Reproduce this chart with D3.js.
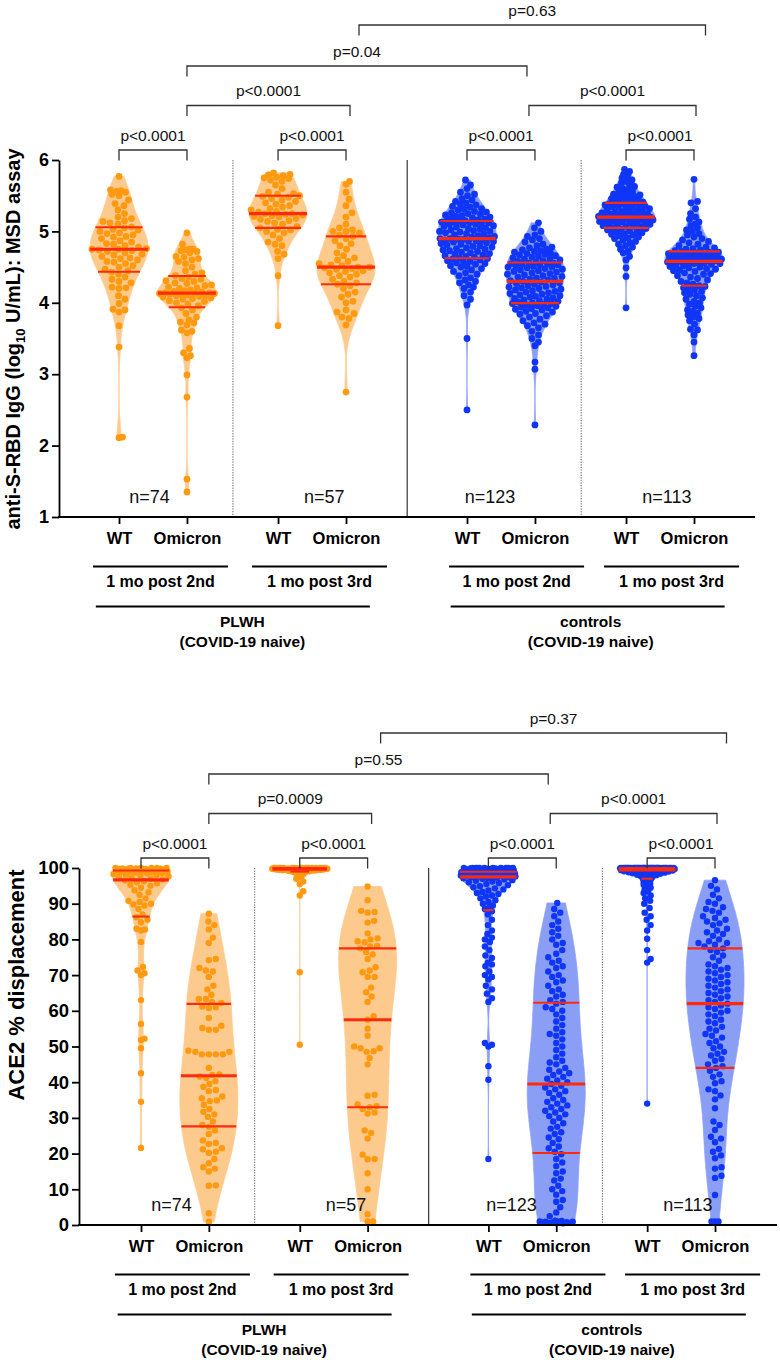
<!DOCTYPE html>
<html><head><meta charset="utf-8">
<script src="https://cdn.jsdelivr.net/npm/d3@7"></script>
<style>
body{margin:0;background:#fff;}
svg{display:block;font-family:"Liberation Sans",Arial,Helvetica,sans-serif;}
</style></head><body>
<svg id="chart" width="780" height="1360"></svg>
<script>
// ---------------- DATA ----------------
const cohorts = ["PLWH", "controls"];
const cohortSub = "(COVID-19 naive)";
const timepoints = ["1 mo post 2nd", "1 mo post 3rd"];
const variants = ["WT", "Omicron"];
const nLabels = ["n=74", "n=57", "n=123", "n=113"];
const iggTicks = [1, 2, 3, 4, 5, 6];
const aceTicks = [0, 10, 20, 30, 40, 50, 60, 70, 80, 90, 100];
const iggPvalues = ["p<0.0001","p<0.0001","p<0.0001","p<0.0001","p<0.0001","p<0.0001","p=0.04","p=0.63"];
const acePvalues = ["p<0.0001","p<0.0001","p<0.0001","p<0.0001","p=0.0009","p<0.0001","p=0.55","p=0.37"];

// anti-S-RBD IgG (log10 U/mL)
const iggPlwh2ndWT = [2.11,2.12,3.38,3.68,3.87,3.9,3.91,3.99,4.05,4.1,4.2,4.21,4.22,4.28,4.3,4.33,4.36,4.4,4.43,
  4.45,4.47,4.5,4.52,4.55,4.57,4.58,4.6,4.62,4.63,4.65,4.67,4.68,4.7,4.72,4.73,4.74,4.75,
  4.75,4.76,4.78,4.8,4.82,4.83,4.85,4.87,4.9,4.92,4.93,4.95,4.97,4.98,5.0,5.02,5.03,5.05,
  5.06,5.1,5.12,5.14,5.15,5.18,5.2,5.25,5.3,5.36,5.39,5.44,5.5,5.52,5.55,5.56,5.57,5.58,5.77];
const iggPlwh2ndOm = [1.35,1.53,2.68,2.99,3.23,3.26,3.3,3.36,3.58,3.6,3.62,3.69,3.72,3.73,3.76,3.8,3.85,3.9,3.93,
  3.96,3.98,4.0,4.02,4.03,4.05,4.06,4.07,4.08,4.09,4.1,4.1,4.11,4.12,4.12,4.13,4.13,4.13,
  4.14,4.14,4.15,4.16,4.17,4.18,4.2,4.21,4.22,4.24,4.25,4.27,4.28,4.3,4.31,4.33,4.34,4.36,
  4.38,4.4,4.42,4.45,4.5,4.55,4.58,4.6,4.62,4.64,4.65,4.7,4.72,4.73,4.74,4.75,4.75,4.82,4.98];
const iggPlwh3rdWT = [3.68,4.38,4.62,4.68,4.72,4.8,4.82,4.85,4.9,4.95,4.98,5.0,5.02,5.03,
  5.05,5.07,5.1,5.12,5.14,5.15,5.17,5.18,5.2,5.21,5.22,5.23,5.24,5.25,
  5.25,5.27,5.28,5.3,5.32,5.34,5.36,5.38,5.4,5.42,5.44,5.46,5.48,5.49,
  5.5,5.52,5.53,5.55,5.6,5.65,5.7,5.72,5.74,5.75,5.76,5.78,5.79,5.8,5.82];
const iggPlwh3rdOm = [2.75,3.69,3.78,3.8,3.85,3.87,3.9,4.0,4.02,4.08,4.12,4.15,4.2,4.24,
  4.26,4.28,4.3,4.33,4.36,4.38,4.4,4.42,4.44,4.45,4.47,4.48,4.49,4.5,
  4.5,4.52,4.53,4.55,4.58,4.6,4.63,4.66,4.7,4.75,4.8,4.83,4.87,4.9,
  4.93,4.95,4.98,5.0,5.0,5.02,5.05,5.1,5.2,5.26,5.36,5.45,5.55,5.66,5.7];
const iggCtrl2ndWT = [2.5,3.5,3.97,4.05,4.1,4.15,4.2,4.22,4.25,4.28,4.3,4.32,4.35,4.38,4.4,4.42,4.44,4.46,4.48,4.5,
  4.51,4.52,4.54,4.55,4.56,4.57,4.58,4.59,4.6,4.61,4.62,
  4.63,4.64,4.65,4.66,4.67,4.68,4.69,4.7,4.71,4.72,4.73,4.74,4.75,4.76,4.77,4.78,4.79,4.8,4.81,4.82,
  4.83,4.84,4.85,4.86,4.86,4.87,4.88,4.88,4.89,4.89,
  4.9,4.9,4.91,4.92,4.93,4.94,4.95,4.96,4.97,4.98,4.99,5.0,5.0,5.01,5.02,5.03,5.04,5.05,5.06,5.07,
  5.08,5.09,5.1,5.1,5.11,5.12,5.12,5.13,5.13,5.14,5.14,
  5.15,5.16,5.17,5.18,5.19,5.2,5.21,5.22,5.23,5.24,5.25,5.26,5.27,5.28,5.3,5.31,5.32,5.34,5.35,5.37,
  5.38,5.4,5.42,5.44,5.46,5.5,5.52,5.55,5.6,5.65,5.72];
const iggCtrl2ndOm = [2.29,3.07,3.17,3.4,3.45,3.5,3.55,3.6,3.65,3.68,3.7,3.72,3.75,3.77,3.8,3.82,3.84,3.85,3.87,3.88,
  3.9,3.91,3.92,3.93,3.94,3.95,3.96,3.97,3.98,3.99,3.99,
  4.0,4.01,4.02,4.03,4.04,4.05,4.06,4.07,4.08,4.09,4.1,4.11,4.12,4.13,4.14,4.15,4.16,4.17,4.18,4.19,
  4.2,4.21,4.22,4.23,4.24,4.25,4.26,4.27,4.28,4.29,
  4.3,4.31,4.32,4.33,4.34,4.35,4.36,4.37,4.38,4.39,4.4,4.41,4.42,4.43,4.44,4.45,4.46,4.47,4.48,4.49,
  4.5,4.5,4.51,4.52,4.53,4.53,4.54,4.55,4.55,4.56,4.56,
  4.57,4.58,4.59,4.6,4.61,4.62,4.63,4.64,4.65,4.66,4.67,4.68,4.69,4.7,4.71,4.72,4.73,4.74,4.75,4.77,
  4.78,4.8,4.82,4.85,4.88,4.9,4.93,4.95,5.0,5.05,5.12];
const iggCtrl3rdWT = [3.93,4.37,4.49,4.6,4.65,4.7,4.72,4.75,4.78,4.8,4.82,4.84,4.86,4.88,4.9,4.91,4.92,4.94,4.95,4.96,
  4.97,4.98,4.99,5.0,5.01,5.02,5.03,5.04,
  5.05,5.06,5.07,5.07,5.08,5.09,5.1,5.1,5.11,5.12,5.12,5.13,5.14,5.14,5.15,5.15,5.16,5.16,5.17,5.17,
  5.18,5.18,5.19,5.19,5.19,5.2,5.2,5.2,
  5.2,5.21,5.21,5.22,5.22,5.23,5.24,5.24,5.25,5.26,5.26,5.27,5.28,5.29,5.3,5.3,5.31,5.32,5.33,5.34,
  5.35,5.35,5.36,5.37,5.38,5.38,5.39,5.39,
  5.4,5.41,5.42,5.43,5.44,5.45,5.46,5.47,5.48,5.49,5.5,5.51,5.52,5.53,5.55,5.56,5.58,5.6,5.62,5.63,
  5.65,5.68,5.7,5.72,5.75,5.78,5.8,5.84,5.87];
const iggCtrl3rdOm = [3.26,3.45,3.55,3.62,3.63,3.7,3.75,3.78,3.8,3.83,3.85,3.88,3.9,3.93,3.95,3.98,4.0,4.02,4.05,4.07,
  4.1,4.12,4.14,4.16,4.18,4.2,4.21,4.23,
  4.24,4.26,4.28,4.3,4.32,4.34,4.36,4.38,4.4,4.41,4.42,4.44,4.45,4.46,4.47,4.48,4.49,4.5,4.51,4.52,
  4.53,4.54,4.55,4.55,4.56,4.56,4.57,4.57,
  4.58,4.58,4.59,4.59,4.6,4.6,4.61,4.61,4.62,4.62,4.63,4.63,4.64,4.64,4.65,4.65,4.66,4.66,4.67,4.67,
  4.68,4.68,4.69,4.69,4.7,4.7,4.71,4.71,
  4.72,4.73,4.74,4.75,4.76,4.77,4.78,4.8,4.82,4.84,4.86,4.88,4.9,4.92,4.95,4.97,5.0,5.02,5.05,5.08,
  5.1,5.13,5.17,5.2,5.25,5.32,5.4,5.42,5.73];

// ACE2 % displacement
const acePlwh2ndWT = [21.6,34.5,42.5,49.5,51.8,52.2,56.3,63,70,70.5,71.3,72.3,79.3,82.5,82.8,83,84.8,85.5,
  86.2,87,88.5,89.5,89.8,90,90.5,90.8,91.5,92.5,93.2,93.8,94.5,95,95.3,95.7,96,96.3,
  96.5,96.8,97,97.2,97.5,97.7,97.9,98,98.2,98.3,98.5,98.6,98.7,98.8,98.9,99,99.1,99.2,
  99.3,99.3,99.4,99.4,99.5,99.5,99.6,99.6,99.7,99.7,99.8,99.8,99.9,99.9,100,100,100,100,100,100];
const acePlwh2ndOm = [0.9,3.3,11,11.1,15,15.8,16.2,17.3,18.5,20.2,20.5,21.2,21.5,22.7,23,23.7,25.5,26.5,
  27.5,28,29,30.3,31,31.7,32.5,33.7,34.7,34.9,35.5,36,37.5,37.8,38.7,39.5,40.3,41.2,41.6,
  42,42.2,44,47.8,47.8,47.8,47.8,48.5,48.5,48.8,54.7,54.7,55.2,55.8,58,60.8,61,61.2,
  62.2,62.5,63.3,63.3,64.5,66,67,69.5,71,71.3,72,74.2,74.5,79,80.5,82.8,84,85,87.2];
const acePlwh3rdWT = [50.5,70.8,92.3,93.5,95.5,96.2,97,97.5,98,98.3,98.5,98.7,98.8,98.9,
  99,99.1,99.2,99.3,99.3,99.4,99.4,99.5,99.5,99.5,99.6,99.6,99.6,99.7,
  99.7,99.7,99.8,99.8,99.8,99.8,99.9,99.9,99.9,99.9,100,100,100,100,
  100,100,100,100,100,100,100,100,100,100,100,100,100,100,100];
const acePlwh3rdOm = [1,1,3,10,14.5,18.4,18.5,19.7,24.2,25.8,26.5,31.2,31.5,32.5,
  33,33.3,33.8,36.2,36.5,45,46.8,48.5,48.7,49.5,49.5,50,53,55,
  57.5,58.5,62.5,64,65.2,66.5,69.5,69.5,70.8,71.3,72.2,74.5,75.8,76.5,
  77.5,78,78.2,79.2,79.5,80,80.3,81.7,84.7,85.2,87.5,87.7,88,91,94.8];
const aceCtrl2ndWT = [18.5,40.7,44.5,50,50.5,51,62.5,63.5,64.8,66,67,68.8,69.5,70,71,72.5,73,73.5,74.8,75.5,
  77,78,79.3,80,80.5,81.5,82.5,84,85.5,87,
  87.9,88.5,89,89.5,90,90.5,91,91.5,92,92.3,92.7,93,93.3,93.7,94,94.3,94.6,94.9,95.2,95.5,
  95.8,96,96.2,96.4,96.6,96.8,97,97.1,97.2,97.3,97.4,
  97.5,97.6,97.6,97.7,97.7,97.8,97.8,97.9,97.9,98,98,98.1,98.1,98.2,98.2,98.3,98.3,98.4,98.4,98.5,
  98.5,98.6,98.6,98.7,98.7,98.7,98.8,98.8,98.8,98.9,98.9,
  99,99,99.1,99.1,99.2,99.2,99.3,99.3,99.4,99.4,99.5,99.5,99.6,99.6,99.7,99.7,99.8,99.8,99.9,99.9,
  100,100,100,100,100,100,100,100,100,100,100];
const aceCtrl2ndOm = [0.5,0.5,0.6,0.6,0.7,0.7,0.8,0.8,0.9,0.9,1,1,1.1,1.2,2.5,3.5,5,6.5,7,8.5,
  9.5,10,11,12.5,13,14.5,15,16.5,17.5,18.5,19.8,
  20.5,21.5,22,23,24,24.5,25.5,26,27,27.5,28.5,29,30,30.5,31,31.5,32,32.5,33,33.5,
  34,34.5,35,35.5,36.5,37,37.5,38,38.5,39,
  39.5,40,40.5,41,41.5,42,42.5,43,43.5,44,45,45.5,46,47,48,49,50,51,52,53,
  53.5,54,55,56,57,58,59,60,60.5,61,62,
  62.5,63,64,64.5,65.5,66,67,68,68.5,69.5,70,71,72,72.5,73.5,74,75,76,77,78.5,
  79,80,81,82,83,84,85,86.5,87.5,88.5,90.2];
const aceCtrl3rdWT = [34,73.5,74.5,77,80.2,82.5,84,85.5,86.5,87.5,88.8,90,90.8,91.5,92.3,93,93.5,94,94.5,95,
  95.3,95.6,95.9,96.1,96.3,96.5,96.7,96.9,
  97,97.2,97.4,97.6,97.8,98,98.1,98.2,98.3,98.4,98.5,98.6,98.7,98.8,98.9,99,99,99.1,99.1,99.2,
  99.2,99.3,99.3,99.3,99.4,99.4,99.4,99.5,
  99.5,99.5,99.6,99.6,99.6,99.6,99.7,99.7,99.7,99.7,99.8,99.8,99.8,99.8,99.8,99.9,99.9,99.9,99.9,99.9,
  99.9,100,100,100,100,100,100,100,
  100,100,100,100,100,100,100,100,100,100,100,100,100,100,100,100,100,100,100,100,
  100,100,100,100,100,100,100,100,100];
const aceCtrl3rdOm = [1,1,1,8.4,13.2,13.8,15.8,16.2,18.7,19.5,20.5,21.3,23.2,24.2,24.7,26.6,28,29,32.7,35.2,
  36.3,37.5,38,39.7,40.3,41.5,42.2,43.2,
  44,44.5,45,46,46.5,47.5,48,48.5,49.5,50,51,51.5,52.5,53,53.5,54.5,55,55.5,56.5,57,
  57.5,58.5,59,59.5,60,60.5,61,61.5,
  62,62.5,63,63.5,64,64.5,65,65.5,66,66.5,67,67.5,68,68.5,69,69.5,70,70.5,71,71.5,
  72,72.5,73,74,75,75.5,76.5,77,
  77.5,78,78.5,79,79,79.5,80,81,81.5,82,82.5,83,84,84.5,85,85.5,86,86.5,87.5,88,
  88.5,89,90,90.5,91.5,92.5,94,95,96.6];

// ---------------- LAYOUT ----------------
const SLOTS = [0, 1, 2.34, 3.34, 5.12, 6.12, 7.46, 8.46];
const SEPS = [1.676, 4.24, 6.80];
const NLAB_SLOTS = [0.45, 3.02, 5.46, 8.06];
const SUB_SLOTS = [0.61, 2.95, 5.85, 8.13];
const GRP_LINE_SLOTS = [1.675, 6.895];
const GRP_TEXT_SLOTS = [1.815, 6.94];
const BRACKETS = [
  {a:0,b:1,lv:0},{a:2,b:3,lv:0},{a:4,b:5,lv:0},{a:6,b:7,lv:0},
  {a:1,b:3,lv:1,db:4},{a:5,b:7,lv:1,da:-6,db:2},
  {a:1,b:5,lv:2,db:-8},{a:3,b:7,lv:3,da:13,db:11.5}
];
const LEVEL_OFF = [10, 54.5, 94, 135];
const ORANGE_FILL = "#fdca8e", ORANGE_DOT = "#ff9a10";
const BLUE_FILL = "#8b9ef6", BLUE_DOT = "#0f35f6";
const RED = "#ff2a0c";

const svg = d3.select("#chart");

function panel(o) {
  const g = svg.append("g");
  const y = d3.scaleLinear().domain(o.domain).range([o.yBottom, o.yTop]);
  const sx = d3.scaleLinear().domain([0, SLOTS[SLOTS.length - 1]]).range([o.x0, o.x1]);
  const keys = SLOTS.map((s, i) => "c" + i);
  const xCat = d3.scaleOrdinal().domain(keys).range(SLOTS.map(sx));
  const catNames = keys.map((k, i) => variants[i % 2]);

  SEPS.forEach((s, i) => {
    g.append("line").attr("x1", sx(s)).attr("x2", sx(s))
      .attr("y1", o.yTop).attr("y2", o.yBottom)
      .attr("stroke", i === 1 ? "#222" : "#666")
      .attr("stroke-width", i === 1 ? 1.1 : 1)
      .attr("stroke-dasharray", i === 1 ? null : "1.3,1.3");
  });

  const gV = g.append("g"), gD = g.append("g"), gL = g.append("g");

  o.series.forEach((vals, i) => {
    const cx = xCat(keys[i]);
    const blue = i >= 4;
    const sorted = vals.slice().sort(d3.ascending);
    const n = sorted.length;
    const sd = d3.deviation(sorted);
    const q1 = d3.quantile(sorted, 0.25), q2 = d3.quantile(sorted, 0.5), q3 = d3.quantile(sorted, 0.75);
    const iqr = q3 - q1;
    const h = 0.9 * Math.min(sd, (iqr / 1.34) || sd) * Math.pow(n, -0.2) * o.bw;
    const dens = v => d3.mean(sorted, x => Math.exp(-0.5 * ((v - x) / h) ** 2));
    const lo = sorted[0], hi = sorted[n - 1];
    const grid = d3.range(0, 301).map(k => lo + (hi - lo) * k / 300);
    const dv = grid.map(v => [v, dens(v)]);
    const maxD = d3.max(dv, d => d[1]);
    const hw = v => dens(v) / maxD * o.halfW;

    gV.append("path").datum(dv)
      .attr("d", d3.area().x0(d => cx - d[1] / maxD * o.halfW).x1(d => cx + d[1] / maxD * o.halfW).y(d => y(d[0])))
      .attr("fill", blue ? BLUE_FILL : ORANGE_FILL)
      .attr("stroke", blue ? BLUE_FILL : ORANGE_FILL)
      .attr("stroke-width", 0.8);

    const r = o.r, dd = 2 * r + 0.2;
    const pts = sorted.map(v => ({ v, py: y(v) }));
    const placed = [];
    pts.forEach(p => {
      const lim = Math.max(hw(p.v) - r * 0.4, r * 1.1);
      const near = placed.filter(q => Math.abs(q.py - p.py) < dd);
      let best = 0, bestScore = -Infinity;
      const steps = Math.floor(lim / 0.5);
      for (let k = 0; k <= 2 * steps; k++) {
        const off = (k === 0 ? 0 : (k % 2 ? 1 : -1) * Math.ceil(k / 2) * 0.5);
        let minC = Infinity;
        for (const q of near) {
          const dist = Math.hypot(q.px - off, q.py - p.py);
          minC = Math.min(minC, dist - dd);
        }
        if (minC >= 0) { best = off; bestScore = Infinity; break; }
        if (minC > bestScore) { bestScore = minC; best = off; }
      }
      p.px = best;
      placed.push(p);
    });
    gD.selectAll(null).data(placed).join("circle")
      .attr("cx", d => cx + d.px).attr("cy", d => d.py).attr("r", r)
      .attr("fill", blue ? BLUE_DOT : ORANGE_DOT);

    [[q1, 2.1], [q3, 2.1], [q2, 3.2]].forEach(([q, w]) => {
      const half = Math.max(hw(q), 3);
      gL.append("line").attr("x1", cx - half).attr("x2", cx + half)
        .attr("y1", y(q)).attr("y2", y(q))
        .attr("stroke", RED).attr("stroke-width", w);
    });
  });

  const ya = g.append("g").attr("transform", `translate(${o.axisX},0)`)
    .call(d3.axisLeft(y).tickValues(o.ticks).tickFormat(d3.format("d")).tickSize(7).tickPadding(3).tickSizeOuter(0));
  ya.select(".domain").attr("stroke", "#000").attr("stroke-width", 1.8);
  ya.selectAll(".tick line").attr("stroke", "#000").attr("stroke-width", 1.8);
  ya.selectAll(".tick text").attr("fill", "#000").attr("font-size", o.yTickFont).attr("font-weight", "bold")
    .attr("font-family", '"Liberation Sans",Arial,sans-serif');

  g.append("line").attr("x1", o.axisX - 0.9).attr("x2", o.axisEnd).attr("y1", o.yBottom).attr("y2", o.yBottom)
    .attr("stroke", "#000").attr("stroke-width", 1.8);
  const xa = g.append("g").attr("transform", `translate(0,${o.yBottom})`)
    .call(d3.axisBottom(xCat).tickSize(7).tickPadding(8.3).tickFormat(d => catNames[keys.indexOf(d)]));
  xa.select(".domain").remove();
  xa.selectAll(".tick line").attr("stroke", "#000").attr("stroke-width", 1.8);
  xa.selectAll(".tick text").attr("fill", "#000").attr("font-size", 16.5).attr("font-weight", "bold")
    .attr("font-family", '"Liberation Sans",Arial,sans-serif');

  nLabels.forEach((t, i) => {
    g.append("text").attr("x", sx(NLAB_SLOTS[i])).attr("y", o.yBottom - 14)
      .attr("text-anchor", "middle").attr("font-size", 18).attr("fill", "#111").text(t);
  });

  SUB_SLOTS.forEach((s, i) => {
    const c = sx(s);
    g.append("line").attr("x1", c - 67.5).attr("x2", c + 67.5)
      .attr("y1", o.yBottom + 49.5).attr("y2", o.yBottom + 49.5)
      .attr("stroke", "#000").attr("stroke-width", 2);
    g.append("text").attr("x", c).attr("y", o.yBottom + 69.5).attr("text-anchor", "middle")
      .attr("font-size", 16).attr("font-weight", "bold").attr("fill", "#000").text(timepoints[i % 2]);
  });
  cohorts.forEach((name, i) => {
    const c = sx(GRP_LINE_SLOTS[i]);
    g.append("line").attr("x1", c - 137).attr("x2", c + 137)
      .attr("y1", o.yBottom + 89.5).attr("y2", o.yBottom + 89.5)
      .attr("stroke", "#000").attr("stroke-width", 2);
    const tc = sx(GRP_TEXT_SLOTS[i]);
    g.append("text").attr("x", tc).attr("y", o.yBottom + 110).attr("text-anchor", "middle")
      .attr("font-size", 15.5).attr("font-weight", "bold").attr("fill", "#000").text(name);
    g.append("text").attr("x", tc).attr("y", o.yBottom + 129.5).attr("text-anchor", "middle")
      .attr("font-size", 15.5).attr("font-weight", "bold").attr("fill", "#000").text(cohortSub);
  });

  BRACKETS.forEach((b, i) => {
    const xa_ = xCat(keys[b.a]) + (b.da || 0), xb_ = xCat(keys[b.b]) + (b.db || 0);
    const ly = o.yTop - LEVEL_OFF[b.lv];
    g.append("path").attr("d", `M${xa_},${ly + 10.5}V${ly}H${xb_}V${ly + 10.5}`)
      .attr("fill", "none").attr("stroke", "#333").attr("stroke-width", 1.3);
    g.append("text").attr("x", (xa_ + xb_) / 2).attr("y", ly - 9.5).attr("text-anchor", "middle")
      .attr("font-size", 15.5).attr("fill", "#111").text(o.pvals[i]);
  });
}

panel({
  domain: [1, 6], ticks: iggTicks, yTop: 160, yBottom: 517, axisX: 59, axisEnd: 755,
  x0: 119, x1: 694, halfW: 29, r: 3.4, bw: 1.15, yTickFont: 18,
  series: [iggPlwh2ndWT, iggPlwh2ndOm, iggPlwh3rdWT, iggPlwh3rdOm, iggCtrl2ndWT, iggCtrl2ndOm, iggCtrl3rdWT, iggCtrl3rdOm],
  pvals: iggPvalues
});
panel({
  domain: [0, 100], ticks: aceTicks, yTop: 868, yBottom: 1225, axisX: 79, axisEnd: 777,
  x0: 141, x1: 715, halfW: 29, r: 3.2, bw: 1.15, yTickFont: 18.5,
  series: [acePlwh2ndWT, acePlwh2ndOm, acePlwh3rdWT, acePlwh3rdOm, aceCtrl2ndWT, aceCtrl2ndOm, aceCtrl3rdWT, aceCtrl3rdOm],
  pvals: acePvalues
});

const t1 = svg.append("text").attr("transform", "translate(20,339) rotate(-90)")
  .attr("text-anchor", "middle").attr("font-size", 20).attr("font-weight", "bold").attr("fill", "#000");
t1.append("tspan").text("anti-S-RBD IgG (log");
t1.append("tspan").attr("font-size", 13).attr("dy", 5).text("10");
t1.append("tspan").attr("dy", -5).text(" U/mL): MSD assay");
svg.append("text").attr("transform", "translate(24,985) rotate(-90)")
  .attr("text-anchor", "middle").attr("font-size", 22).attr("font-weight", "bold").attr("fill", "#000")
  .text("ACE2 % displacement");
</script>
</body></html>
